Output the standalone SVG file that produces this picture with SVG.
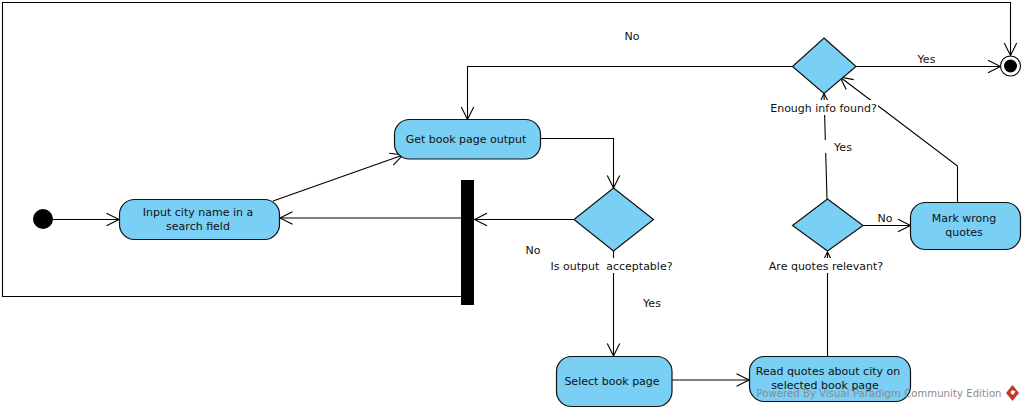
<svg xmlns="http://www.w3.org/2000/svg" width="1024" height="410" viewBox="0 0 1024 410">
<style>
text{font-family:"DejaVu Sans",sans-serif;font-size:11px;fill:#111;text-anchor:middle;white-space:pre}
.n{fill:#7acff5;stroke:#111;stroke-width:1.2}
.c{fill:none;stroke:#000;stroke-width:1.1}
.a{marker-end:url(#h)}
.w{fill:#fff}
</style>
<defs>
<marker id="h" markerUnits="userSpaceOnUse" markerWidth="16" markerHeight="16" refX="14" refY="8" orient="auto"><path d="M1.5 1.800L14 8L1.500 14.200" fill="none" stroke="#000" stroke-width="1.1"/></marker>
</defs>
<rect width="1024" height="410" fill="#fff"/>
<g id="connectors">
<path class="c a" d="M53 219.500H119"/>
<path class="c a" d="M273 201L403 155"/>
<path class="c a" d="M461 218H280"/>
<path class="c a" d="M461 296.500H2.500V2.500H1010.500V55.500"/>
<path class="c a" d="M541 138.500H613.500V188"/>
<path class="c a" d="M574 219.500H474.500"/>
<path class="c a" d="M613.500 251V356"/>
<path class="c a" d="M672 380H749"/>
<path class="c a" d="M827.500 356V252"/>
<path class="c a" d="M827 199L824 93.500"/>
<path class="c a" d="M863 225.500H910.500"/>
<path class="c a" d="M957.500 202.500V166L840 77"/>
<path class="c a" d="M792.500 66.500H467.500V119.500"/>
<path class="c a" d="M856 66.500H1000.500"/>
</g>
<g id="start"><circle cx="43" cy="219" r="10" fill="#000"/></g>
<g id="input-city"><rect class="n" x="119.500" y="199.500" width="160" height="40" rx="15"/><text x="198" y="216">Input city name in a</text><text x="198" y="230">search field</text></g>
<g id="get-book"><rect class="n" x="394.500" y="119.500" width="146" height="39.500" rx="15"/><text x="466" y="143">Get book page output</text></g>
<g id="fork"><rect x="461" y="180" width="13" height="125" fill="#000"/></g>
<g id="output-decision"><path class="n" d="M613.500 188L653.500 219.500L613.500 251L574 219.500Z"/><rect class="w" x="550" y="258" width="124" height="15"/><text x="611.500" y="270">Is output  acceptable?</text></g>
<g id="select-book"><rect class="n" x="556.500" y="356.500" width="115.500" height="50" rx="15"/><text x="612" y="385">Select book page</text></g>
<g id="read-quotes"><rect class="n" x="749.500" y="356.500" width="161" height="45" rx="15"/><text x="828" y="375">Read quotes about city on</text><text x="825" y="389">selected book page</text></g>
<g id="relevant-decision"><path class="n" d="M827.500 199L863 225.500L827.500 251L792.500 225.500Z"/><rect class="w" x="768" y="258" width="117" height="15"/><text x="826" y="270">Are quotes relevant?</text></g>
<g id="mark-wrong"><rect class="n" x="910.500" y="202.500" width="110" height="47" rx="15"/><text x="964" y="222">Mark wrong</text><text x="964" y="236">quotes</text></g>
<g id="enough-decision"><path class="n" d="M824 38L856 66.500L824 93.500L792.500 66.500Z"/><rect class="w" x="769" y="100" width="109" height="15"/><text x="823.500" y="112">Enough info found?</text></g>
<g id="end"><circle cx="1010.500" cy="66" r="10" fill="#fff" stroke="#000" stroke-width="1.1"/><circle cx="1010.500" cy="66" r="6.500" fill="#000"/></g>
<g id="labels">
<text x="632" y="40">No</text>
<text x="926.500" y="63">Yes</text>
<rect class="w" x="822" y="140" width="34" height="13"/><text x="843" y="151">Yes</text>
<text x="885" y="222">No</text>
<text x="533" y="254">No</text>
<text x="652" y="307">Yes</text>
</g>
<g id="watermark"><text x="879" y="397" style="fill:#8a8a8a;font-size:10px;letter-spacing:.1px">Powered By Visual Paradigm Community Edition</text>
<path d="M1012.500 385L1019 393L1012.500 401L1006 393Z" fill="#c0392b"/><path d="M1012 390L1015.500 391.500L1013 395L1010.500 393Z" fill="#fff"/></g>
</svg>
